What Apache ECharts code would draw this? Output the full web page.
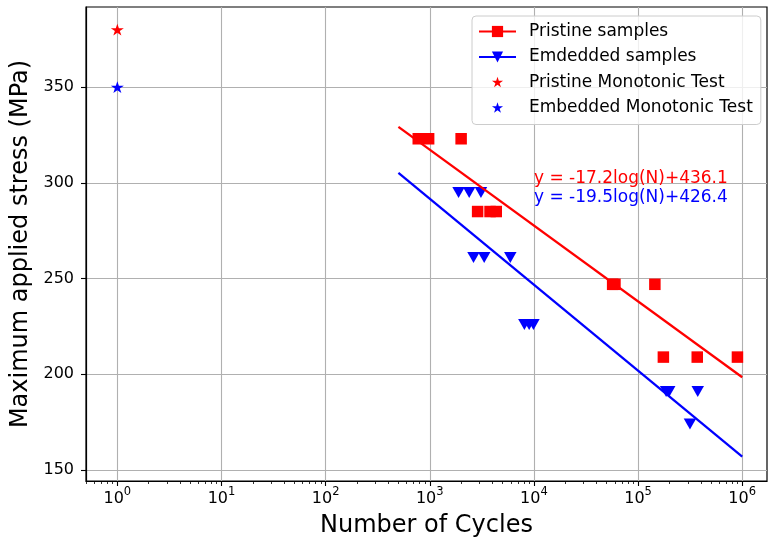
<!DOCTYPE html>
<html>
<head>
<meta charset="utf-8">
<script src="https://cdn.jsdelivr.net/npm/echarts@6/dist/echarts.min.js"></script>
<style>
  html, body { margin: 0; padding: 0; background: #fff; }
  #main { width: 768px; height: 544px; }
</style>
</head>
<body>
<div id="main"></div>
<script>
// fatigue data
var pristineCycles = [775, 975, 2000, 2880, 3790, 4350, 57000, 60000, 145000, 175000, 370000, 900000];
var pristineStress = [323, 323, 323, 285, 285, 285, 247, 247, 247, 209, 209, 209];
var embeddedCycles = [1890, 2390, 3100, 2630, 3330, 5930, 8100, 9000, 9900, 186000, 199000, 374000, 315000];
var embeddedStress = [295, 295, 295, 261, 261, 261, 226, 226, 226, 191, 191, 191, 174];

// fitted lines, end points
var fitCycles = [500, 1000000];
var pristineFit = [329.2, 198.5];
var embeddedFit = [305.2, 157.0];

// monotonic tests
var monoCycles = [1];
var pristineMono = [380];
var embeddedMono = [350];

var xMajorTicks = [1, 10, 100, 1000, 10000, 100000, 1000000];
var yTicks = [150, 200, 250, 300, 350];
var pristineEq = 'y = -17.2log(N)+436.1';
var embeddedEq = 'y = -19.5log(N)+426.4';

function zip(xs, ys) {
	var out = [];
	for (var i = 0; i < xs.length; i++) out.push([xs[i], ys[i]]);
	return out;
}

// minor ticks 2..9 x 10^k
var xMinorTicks = [];
for (var k = -1; k <= 6; k++) {
	for (var m = 2; m <= 9; m++) {
		var v = m * Math.pow(10, k);
		if (v >= 0.5 && v <= 1.73e6) xMinorTicks.push(v);
	}
}

var star = 'path://M0 -1 L0.2245 -0.309 L0.951 -0.309 L0.363 0.118 L0.588 0.809 L0 0.382 L-0.588 0.809 L-0.363 0.118 L-0.951 -0.309 L-0.2245 -0.309 Z';
var starIcon = 'path://M-1.2 -1.2 M1.2 1.2 M0 -1 L0.2245 -0.309 L0.951 -0.309 L0.363 0.118 L0.588 0.809 L0 0.382 L-0.588 0.809 L-0.363 0.118 L-0.951 -0.309 L-0.2245 -0.309 Z';
var font = 'DejaVu Sans';

var myChart = echarts.init(document.getElementById('main'));

var option = {
	animation : false,
	textStyle : { fontFamily : font },
	grid : {
		left : 86,
		right : 1,
		top : 7,
		bottom : 63,
		show : true,
		borderColor : '#000',
		borderWidth : 1.2,
		backgroundColor : 'transparent'
	},
	legend : {
		orient : 'vertical',
		left : 472,
		top : 16,
		padding : [7, 8, 8, 6],
		itemWidth : 37,
		itemHeight : 14,
		itemGap : 8.5,
		backgroundColor : 'rgba(255,255,255,0.8)',
		borderColor : '#cccccc',
		borderWidth : 1,
		borderRadius : 4,
		textStyle : { fontFamily : font, fontSize : 17, color : '#000', padding : [0, 0, 0, 8] },
		data : [
			{ name : 'Pristine samples' },
			{ name : 'Emdedded samples' },
			{ name : 'Pristine Monotonic Test', icon : starIcon },
			{ name : 'Embedded Monotonic Test', icon : starIcon }
		]
	},
	xAxis : [ {
		type : 'log',
		logBase : 10,
		min : 0.5,
		max : 1.73e6,
		name : 'Number of Cycles',
		nameLocation : 'middle',
		nameGap : 33,
		nameTextStyle : { fontFamily : font, fontSize : 24, color : '#000' },
		axisLine : { lineStyle : { color : '#000', width : 1.2 } },
		axisTick : { show : true, length : 5, customValues : xMajorTicks, lineStyle : { color : '#000', width : 1.1 } },
		axisLabel : {
			customValues : xMajorTicks,
			margin : 5,
			color : '#000',
			formatter : function(v) {
				return '{b|10}{s|' + Math.round(Math.log10(v)) + '}';
			},
			rich : {
				b : { fontFamily : font, fontSize : 16, color : '#000', verticalAlign : 'bottom' },
				s : { fontFamily : font, fontSize : 11.5, color : '#000', verticalAlign : 'top', padding : [0, 0, 9, 0] }
			}
		},
		splitLine : { show : true, lineStyle : { color : '#b0b0b0', width : 1.1 } }
	}, {
		type : 'log',
		logBase : 10,
		min : 0.5,
		max : 1.73e6,
		position : 'bottom',
		axisLine : { show : false },
		axisTick : { show : true, length : 3, customValues : xMinorTicks, lineStyle : { color : '#000', width : 0.8 } },
		axisLabel : { show : false },
		splitLine : { show : false }
	} ],
	yAxis : {
		type : 'value',
		min : 144.3,
		max : 391.8,
		name : 'Maximum applied stress (MPa)',
		nameLocation : 'middle',
		nameGap : 50,
		nameTextStyle : { fontFamily : font, fontSize : 24, color : '#000' },
		axisLine : { show : true, lineStyle : { color : '#000', width : 1.2 } },
		axisTick : { show : true, length : 5, customValues : yTicks, lineStyle : { color : '#000', width : 1.1 } },
		axisLabel : { customValues : yTicks, margin : 12, fontFamily : font, fontSize : 16, color : '#000' },
		splitLine : { show : true, lineStyle : { color : '#b0b0b0', width : 1.1 } }
	},
	series : [ {
		name : 'Pristine samples',
		type : 'line',
		symbol : 'rect',
		symbolSize : 11,
		showSymbol : false,
		z : 5,
		color : '#ff0000',
		lineStyle : { color : '#ff0000', width : 2.3 },
		data : zip(fitCycles, pristineFit)
	}, {
		name : 'Emdedded samples',
		type : 'line',
		symbol : 'triangle',
		symbolRotate : 180,
		symbolSize : 11,
		showSymbol : false,
		z : 5,
		color : '#0000ff',
		lineStyle : { color : '#0000ff', width : 2.3 },
		data : zip(fitCycles, embeddedFit)
	}, {
		name : 'Pristine samples',
		type : 'scatter',
		symbol : 'rect',
		symbolSize : 11.5,
		z : 3,
		itemStyle : { color : '#ff0000', opacity : 1 },
		data : zip(pristineCycles, pristineStress)
	}, {
		name : 'Emdedded samples',
		type : 'scatter',
		symbol : 'triangle',
		symbolRotate : 180,
		symbolSize : [12.5, 11],
		z : 3,
		itemStyle : { color : '#0000ff', opacity : 1 },
		data : zip(embeddedCycles, embeddedStress)
	}, {
		name : 'Pristine Monotonic Test',
		type : 'scatter',
		symbol : star,
		symbolSize : [13, 12.4],
		symbolKeepAspect : true,
		itemStyle : { color : '#ff0000', opacity : 1 },
		data : zip(monoCycles, pristineMono)
	}, {
		name : 'Embedded Monotonic Test',
		type : 'scatter',
		symbol : star,
		symbolSize : [13, 12.4],
		symbolKeepAspect : true,
		itemStyle : { color : '#0000ff', opacity : 1 },
		data : zip(monoCycles, embeddedMono)
	}, {
		name : 'eq',
		type : 'scatter',
		symbolSize : 0,
		silent : true,
		itemStyle : { opacity : 1 },
		data : [ {
			value : [10000, 300],
			label : { show : true, formatter : pristineEq, color : '#ff0000' }
		}, {
			value : [10000, 290],
			label : { show : true, formatter : embeddedEq, color : '#0000ff' }
		} ],
		label : {
			show : true,
			position : [0, 0],
			align : 'left',
			verticalAlign : 'bottom',
			offset : [0, 4],
			fontFamily : font,
			fontSize : 17
		}
	} ]
};

myChart.setOption(option);
</script>
</body>
</html>
